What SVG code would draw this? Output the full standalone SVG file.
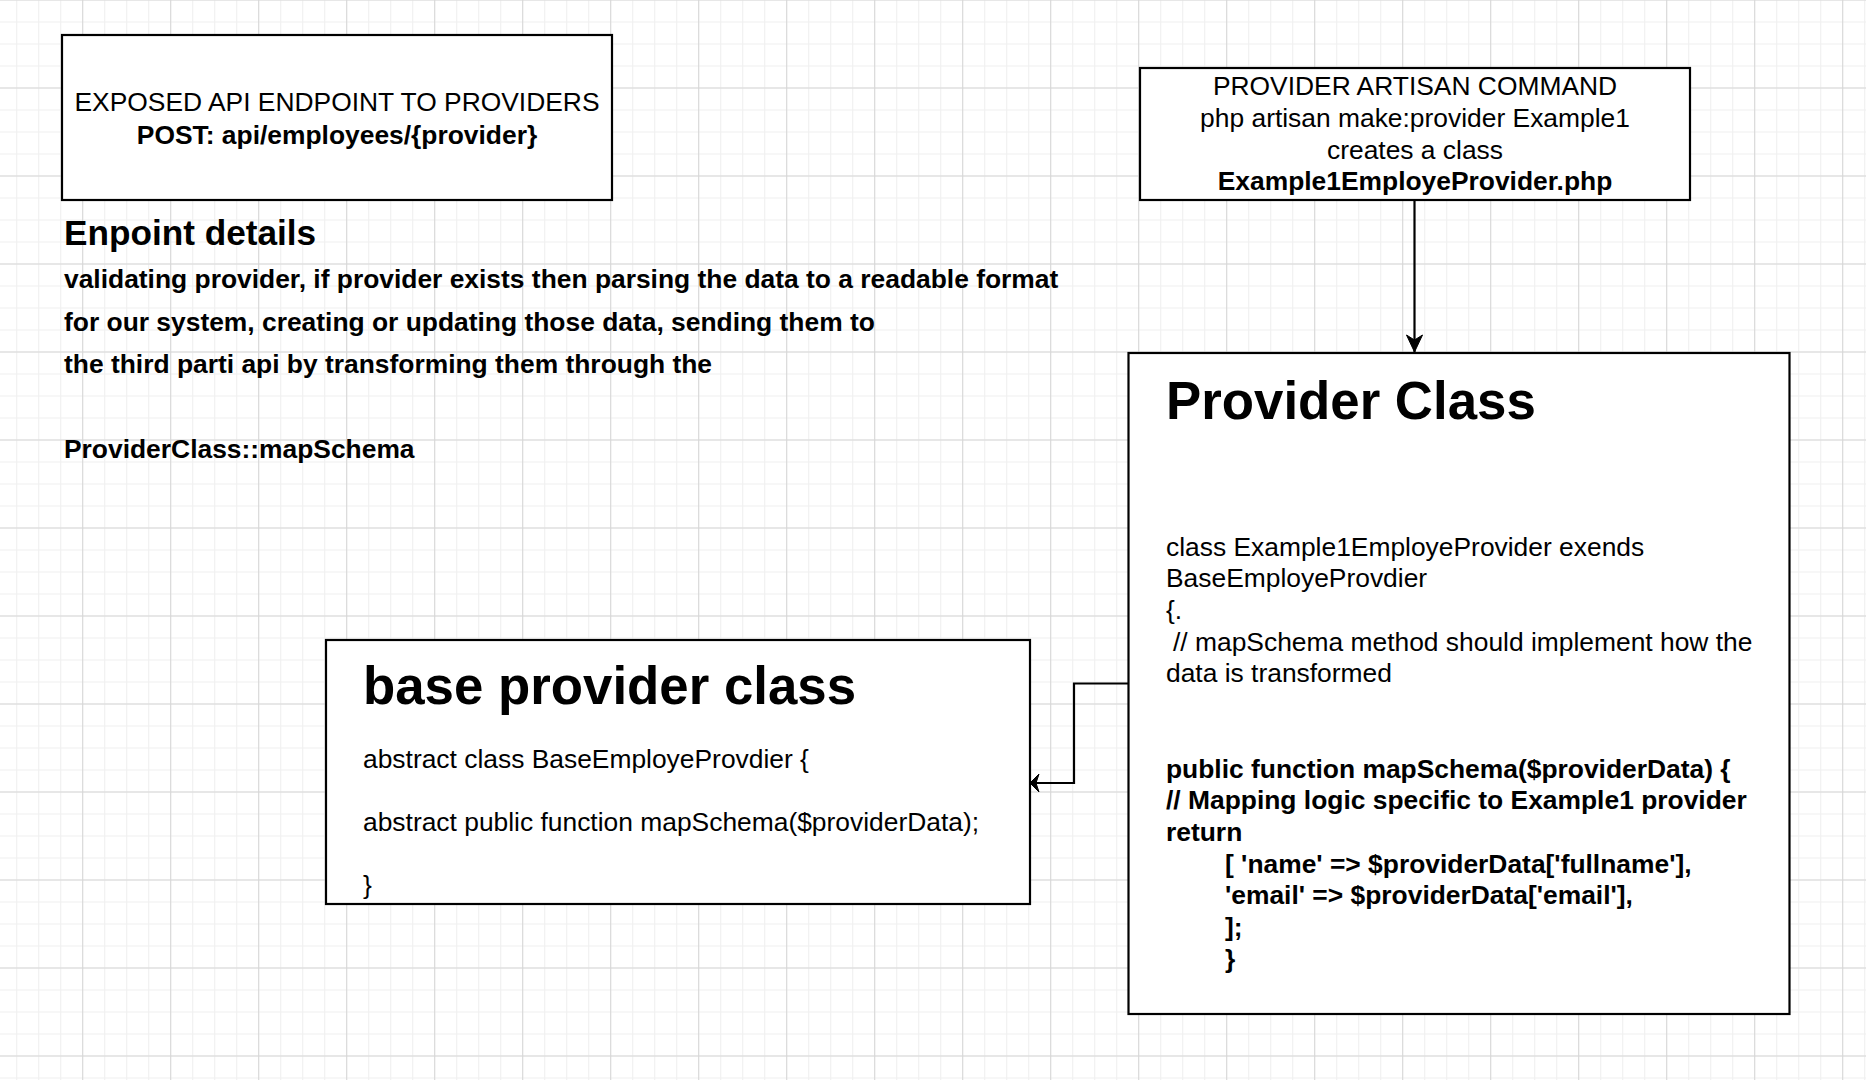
<svg xmlns="http://www.w3.org/2000/svg" width="1866" height="1080" viewBox="0 0 1866 1080">
  <style>
    text { font-family: "Liberation Sans", Arial, Helvetica, sans-serif; fill: #000; }
    .box { fill: #fff; stroke: #000; stroke-width: 2.2; }
    .edge { fill: none; stroke: #000; stroke-width: 2.2; }
    .r { font-size: 26.4px; }
    .b { font-size: 26.4px; font-weight: bold; }
    .mid { text-anchor: middle; }
    .title { font-size: 52.8px; font-weight: bold; }
    .h2 { font-size: 35.2px; font-weight: bold; }
  </style>
  <defs>
    <pattern id="minor" patternUnits="userSpaceOnUse" x="16.2" y="-0.5" width="22" height="22">
      <path d="M0,0.5 H22 M0.5,0 V22" fill="none" stroke="#efefef" stroke-width="1.2"/>
    </pattern>
    <pattern id="major" patternUnits="userSpaceOnUse" x="82.2" y="-0.5" width="88" height="88">
      <path d="M0,0.5 H88 M0.5,0 V88" fill="none" stroke="#d6d6d6" stroke-width="1"/>
    </pattern>
    <marker id="arrowLong" markerUnits="userSpaceOnUse" markerWidth="20" markerHeight="18" refX="17" refY="8" orient="auto" overflow="visible">
      <path d="M0,0 L17,8 L0,16 L5,8 Z" fill="#000" stroke="#000" stroke-width="1"/>
    </marker>
    <marker id="arrowShort" markerUnits="userSpaceOnUse" markerWidth="12" markerHeight="20" refX="9" refY="9" orient="auto" overflow="visible">
      <path d="M0,0 L9,9 L0,18 L3,9 Z" fill="#000" stroke="#000" stroke-width="1"/>
    </marker>
  </defs>

  <rect x="0" y="0" width="1866" height="1080" fill="#fff"/>
  <rect x="0" y="0" width="1866" height="1080" fill="url(#minor)"/>
  <rect x="0" y="0" width="1866" height="1080" fill="url(#major)"/>

  <g id="connectors">
    <path class="edge" d="M1414.5,200 V352" marker-end="url(#arrowLong)"/>
    <path class="edge" d="M1128.5,683.5 H1074 V783 H1030" marker-end="url(#arrowShort)"/>
  </g>

  <g id="endpoint-box">
    <rect class="box" x="62" y="35" width="550" height="165"/>
    <text class="r mid" x="337" y="111">EXPOSED API ENDPOINT TO PROVIDERS</text>
    <text class="b mid" x="337" y="144">POST: api/employees/{provider}</text>
  </g>

  <g id="endpoint-details">
    <text class="h2" x="64" y="245">Enpoint details</text>
    <text class="b" x="64" y="288">validating provider, if provider exists then parsing the data to a readable format</text>
    <text class="b" x="64" y="331">for our system, creating or updating those data, sending them to</text>
    <text class="b" x="64" y="373">the third parti api by transforming them through the</text>
    <text class="b" x="64" y="458">ProviderClass::mapSchema</text>
  </g>

  <g id="artisan-command">
    <rect class="box" x="1140" y="68" width="550" height="132"/>
    <text class="r mid" x="1415" y="95">PROVIDER ARTISAN COMMAND</text>
    <text class="r mid" x="1415" y="127">php artisan make:provider Example1</text>
    <text class="r mid" x="1415" y="159">creates a class</text>
    <text class="b mid" x="1415" y="190">Example1EmployeProvider.php</text>
  </g>

  <g id="provider-class">
    <rect class="box" x="1128.5" y="353" width="661" height="661"/>
    <text class="title" x="1166" y="419">Provider Class</text>
    <text class="r" x="1166" y="555.5">class Example1EmployeProvider exends</text>
    <text class="r" x="1166" y="587">BaseEmployeProvdier</text>
    <text class="r" x="1166" y="619">{.</text>
    <text class="r" x="1173" y="650.5">// mapSchema method should implement how the</text>
    <text class="r" x="1166" y="682">data is transformed</text>
    <text class="b" x="1166" y="777.5">public function mapSchema($providerData) {</text>
    <text class="b" x="1166" y="809">// Mapping logic specific to Example1 provider</text>
    <text class="b" x="1166" y="841">return</text>
    <text class="b" x="1225" y="872.5">[ 'name' =&gt; $providerData['fullname'],</text>
    <text class="b" x="1225" y="904">'email' =&gt; $providerData['email'],</text>
    <text class="b" x="1225" y="936">];</text>
    <text class="b" x="1225" y="967.5">}</text>
  </g>

  <g id="base-provider-class">
    <rect class="box" x="326" y="640" width="704" height="264"/>
    <text class="title" x="363" y="704">base provider class</text>
    <text class="r" x="363" y="768">abstract class BaseEmployeProvdier {</text>
    <text class="r" x="363" y="831">abstract public function mapSchema($providerData);</text>
    <text class="r" x="363" y="894">}</text>
  </g>
</svg>
